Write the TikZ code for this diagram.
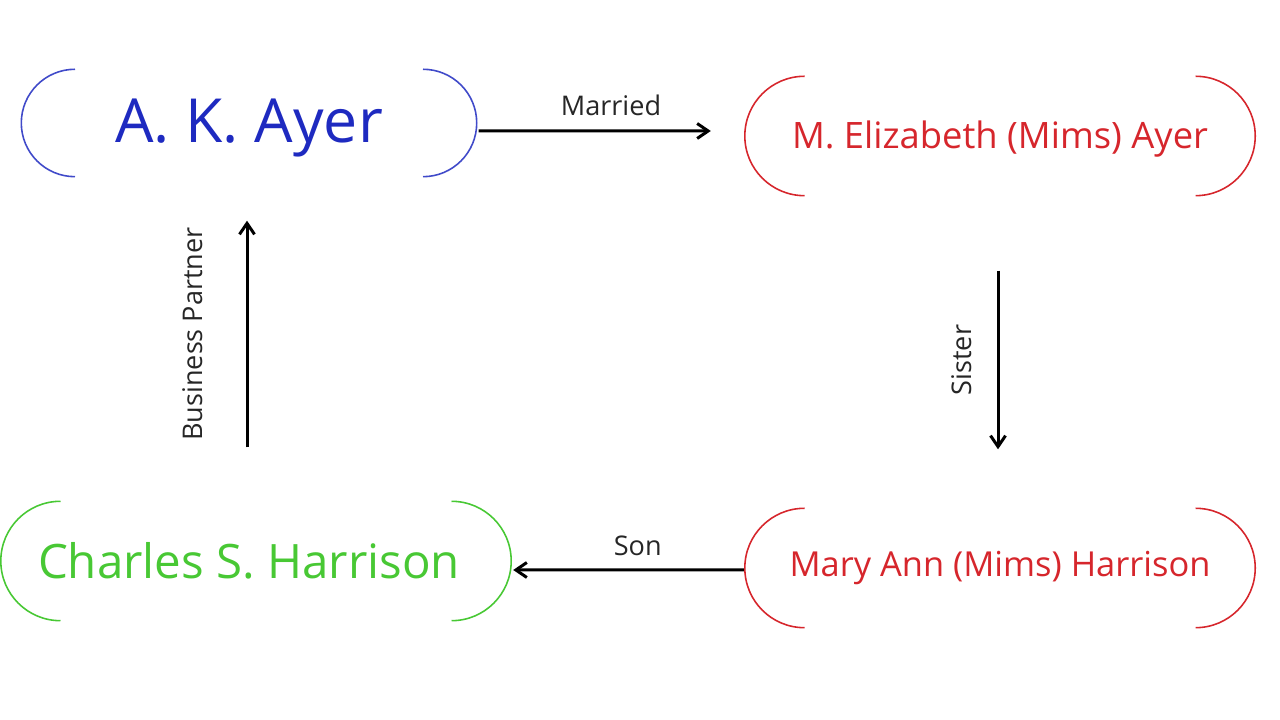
\documentclass[tikz,border=0pt]{standalone}
\usepackage{fontspec}
\setmainfont{Open Sans}
\usepackage{tikz}
\usetikzlibrary{arrows.meta}
\usetikzlibrary{calc}
\usetikzlibrary{positioning}
\definecolor{AyerBlue}{RGB}{30,42,192}
\definecolor{MimsRed}{RGB}{214,38,44}
\definecolor{HarrGreen}{RGB}{72,200,52}
\tikzset{
	person/.style={inner sep=0pt, minimum width=5.09cm, minimum height=1.18cm},
	paren/.style={line width=0.45pt},
	rel/.style={line width=0.85pt, draw=black, -{Straight Barb[length=1.1mm, width=1.5mm]}},
	lab/.style={font=\fontsize{7.7}{9}\selectfont, text=black!85, inner sep=2pt}
}

\begin{document}
\begin{tikzpicture}
		\useasboundingbox (0,0) rectangle (12.8,7.2);
		\node[person, minimum width=4.54cm, minimum height=1.06cm, text=AyerBlue, font=\fontsize{17.3}{20}\selectfont] (ayer) at (2.49,5.97) {\raisebox{-0.20cm}[0pt][0pt]{A. K. Ayer}};
		\node[person, text=MimsRed, font=\fontsize{10.35}{13}\selectfont] (mims) at (10.00,5.84) {\raisebox{-0.125cm}[0pt][0pt]{M. Elizabeth (Mims) Ayer}};
		\node[person, text=MimsRed, font=\fontsize{9.8}{12}\selectfont] (mary) at (10.00,1.52) {Mary Ann (Mims) Harrison};
		\node[person, text=HarrGreen, font=\fontsize{13.5}{16}\selectfont] (harr) at (2.56,1.59) {\hspace*{-0.14cm}Charles S. Harrison};
		% round brackets on both sides of every name
		\foreach \who/\col in {ayer/AyerBlue!85, mims/MimsRed, mary/MimsRed, harr/HarrGreen}
			\draw[paren, draw=\col] let \p1=($(\who.north)-(\who.south)$) in
				([xshift=0.5*\y1]\who.north west) arc[start angle=90, end angle=270, radius=0.5*\y1]
				([xshift=-0.5*\y1]\who.north east) arc[start angle=90, end angle=-90, radius=0.5*\y1];
		\draw[rel] ([xshift=0.02cm, yshift=-0.08cm]ayer.east) -- node[lab, pos=0.57, above=0.07cm] {Married} ([xshift=-0.34cm, yshift=0.05cm]mims.west);
		\draw[rel] ([xshift=-0.02cm, yshift=-0.75cm]mims.south) -- node[lab, midway, rotate=90, anchor=south, yshift=0.18cm] {Sister} ([xshift=-0.02cm, yshift=0.59cm]mary.north);
		\draw[rel] ([xshift=-0.01cm, yshift=-0.02cm]mary.west) -- node[lab, pos=0.46, above=0.06cm] {Son} ([xshift=0.02cm, yshift=-0.09cm]harr.east);
		\draw[rel] ([xshift=-0.09cm, yshift=0.54cm]harr.north) -- node[lab, midway, rotate=90, anchor=south, yshift=0.36cm] {Business Partner} ([xshift=-0.02cm, yshift=-0.44cm]ayer.south);
	\end{tikzpicture}
\end{document}
